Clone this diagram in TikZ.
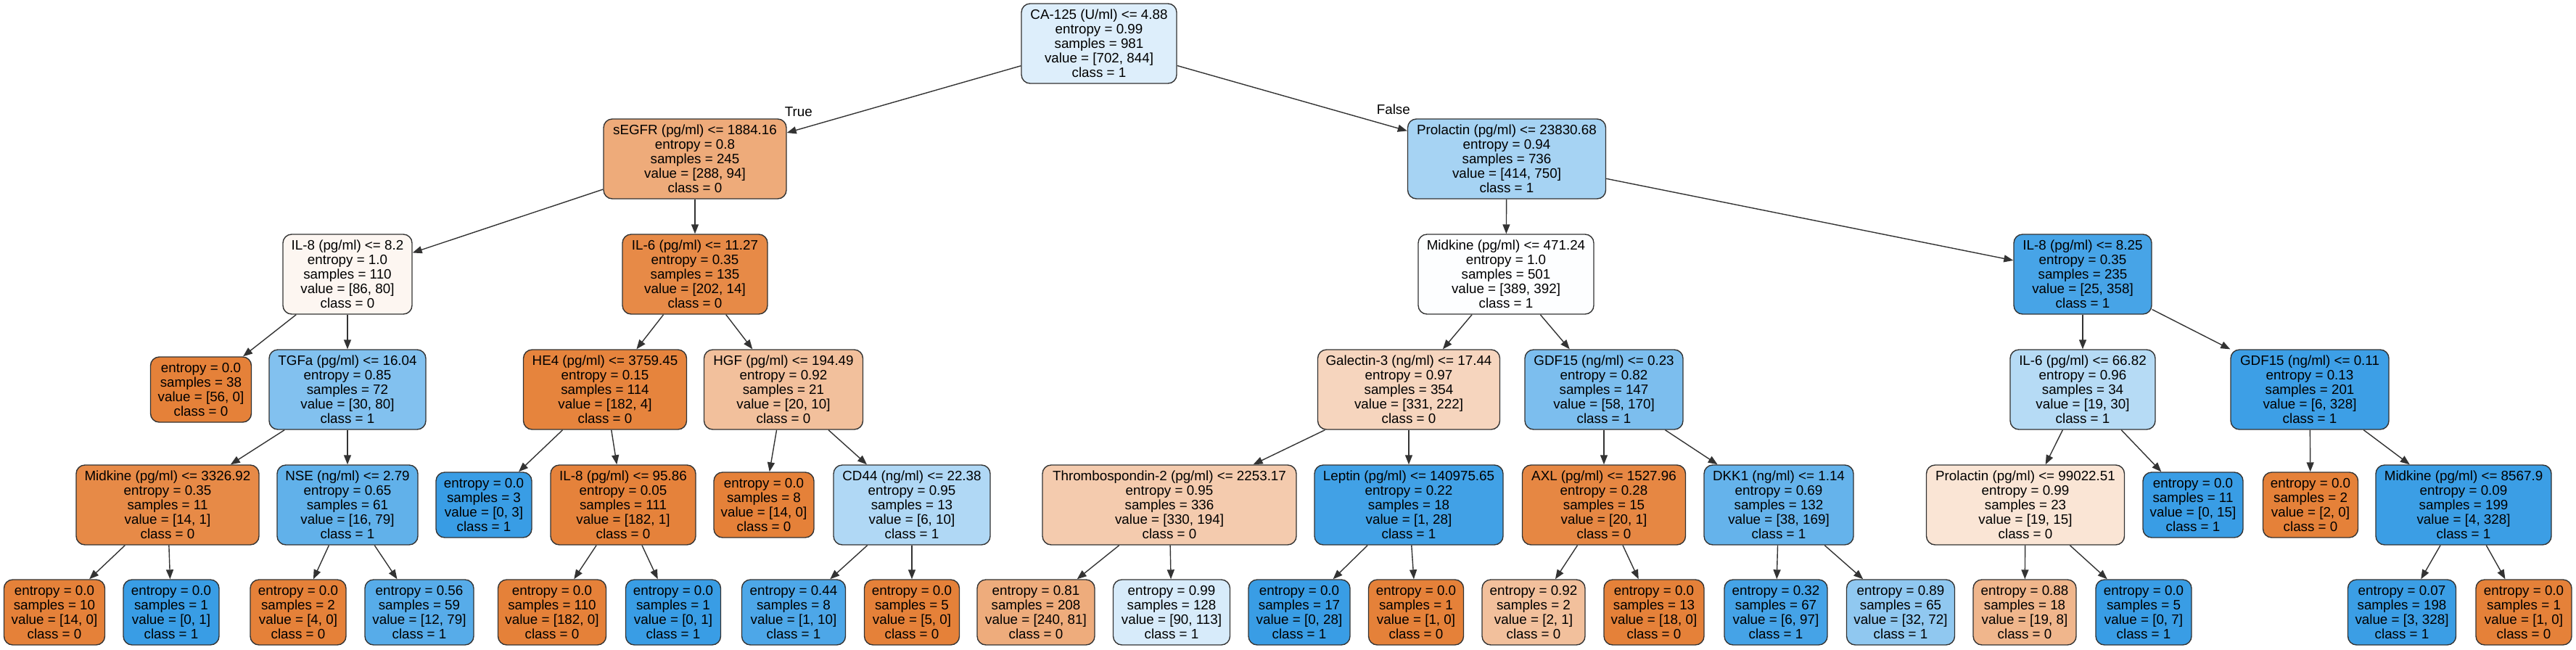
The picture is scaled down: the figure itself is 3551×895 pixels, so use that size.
\documentclass[tikz,border=0pt]{standalone}
\usepackage{fontspec}
\setmainfont{Liberation Sans}
\usepackage{tikz}
\usetikzlibrary{arrows.meta}
\definecolor{cls0}{RGB}{229,129,57}
\definecolor{cls1}{RGB}{57,157,229}

\begin{document}
\begin{tikzpicture}[x=1pt, y=-1pt, ->, >={Triangle[length=13pt,width=10pt]},
	cond/.style={draw=black!80, line width=1.4pt, rounded corners=12pt, align=center, font=\fontsize{18.8}{20}\selectfont, inner xsep=6pt, inner ysep=2pt, minimum height=110pt},
	leaf/.style={cond, minimum height=90pt},
	lbl/.style={inner sep=0pt, font=\fontsize{18.8}{20}\selectfont, text=black},
	every edge/.style={draw=black!80, line width=1.4pt}]
	\useasboundingbox (0,0) rectangle (3551,895);

	% level 0 and 1
	\node[cond, fill=cls1!17, minimum width=214pt] (CA)  at (1515,60) {CA-125 (U/ml) <= 4.88\\entropy = 0.99\\samples = 981\\value = [702, 844]\\class = 1};
	\node[cond, fill=cls0!67, minimum width=252pt] (SE)  at (958,219)  {sEGFR (pg/ml) <= 1884.16\\entropy = 0.8\\samples = 245\\value = [288, 94]\\class = 0};
	\node[cond, fill=cls1!45, minimum width=273pt] (PR)  at (2077,219) {Prolactin (pg/ml) <= 23830.68\\entropy = 0.94\\samples = 736\\value = [414, 750]\\class = 1};

	% level 2
	\node[cond, fill=cls0!7,  minimum width=178pt] (IL8a) at (479,378)  {IL-8 (pg/ml) <= 8.2\\entropy = 1.0\\samples = 110\\value = [86, 80]\\class = 0};
	\node[cond, fill=cls0!93, minimum width=200pt] (IL6a) at (958,378)  {IL-6 (pg/ml) <= 11.27\\entropy = 0.35\\samples = 135\\value = [202, 14]\\class = 0};
	\node[cond, fill=cls1!1,  minimum width=242pt] (MKa)  at (2076,378) {Midkine (pg/ml) <= 471.24\\entropy = 1.0\\samples = 501\\value = [389, 392]\\class = 1};
	\node[cond, fill=cls1!93, minimum width=190pt] (IL8b) at (2871,378) {IL-8 (pg/ml) <= 8.25\\entropy = 0.35\\samples = 235\\value = [25, 358]\\class = 1};

	% level 3
	\node[leaf, fill=cls0,    minimum width=139pt] (La)   at (277,537)  {entropy = 0.0\\samples = 38\\value = [56, 0]\\class = 0};
	\node[cond, fill=cls1!63, minimum width=216pt] (TG)   at (479,537)  {TGFa (pg/ml) <= 16.04\\entropy = 0.85\\samples = 72\\value = [30, 80]\\class = 1};
	\node[cond, fill=cls0!98, minimum width=225pt] (HE)   at (834,537)  {HE4 (pg/ml) <= 3759.45\\entropy = 0.15\\samples = 114\\value = [182, 4]\\class = 0};
	\node[cond, fill=cls0!50, minimum width=219pt] (HG)   at (1080,537) {HGF (pg/ml) <= 194.49\\entropy = 0.92\\samples = 21\\value = [20, 10]\\class = 0};
	\node[cond, fill=cls0!33, minimum width=251pt] (GA)   at (1942,537) {Galectin-3 (ng/ml) <= 17.44\\entropy = 0.97\\samples = 354\\value = [331, 222]\\class = 0};
	\node[cond, fill=cls1!66, minimum width=218pt] (GDa)  at (2211,537) {GDF15 (ng/ml) <= 0.23\\entropy = 0.82\\samples = 147\\value = [58, 170]\\class = 1};
	\node[cond, fill=cls1!37, minimum width=200pt] (IL6b) at (2871,537) {IL-6 (pg/ml) <= 66.82\\entropy = 0.96\\samples = 34\\value = [19, 30]\\class = 1};
	\node[cond, fill=cls1!98, minimum width=218pt] (GDb)  at (3184,537) {GDF15 (ng/ml) <= 0.11\\entropy = 0.13\\samples = 201\\value = [6, 328]\\class = 1};

	% level 4
	\node[cond, fill=cls0!93, minimum width=252pt] (MKb)  at (231,696)  {Midkine (pg/ml) <= 3326.92\\entropy = 0.35\\samples = 11\\value = [14, 1]\\class = 0};
	\node[cond, fill=cls1!80, minimum width=194pt] (NS)   at (479,696)  {NSE (ng/ml) <= 2.79\\entropy = 0.65\\samples = 61\\value = [16, 79]\\class = 1};
	\node[leaf, fill=cls1,    minimum width=132pt] (Lb)   at (667,696)  {entropy = 0.0\\samples = 3\\value = [0, 3]\\class = 1};
	\node[cond, fill=cls0!99, minimum width=200pt] (IL8c) at (859,696)  {IL-8 (pg/ml) <= 95.86\\entropy = 0.05\\samples = 111\\value = [182, 1]\\class = 0};
	\node[leaf, fill=cls0,    minimum width=138pt] (Lc)   at (1053,696) {entropy = 0.0\\samples = 8\\value = [14, 0]\\class = 0};
	\node[cond, fill=cls1!40, minimum width=216pt] (CD)   at (1257,696) {CD44 (ng/ml) <= 22.38\\entropy = 0.95\\samples = 13\\value = [6, 10]\\class = 1};
	\node[cond, fill=cls0!41, minimum width=350pt] (TH)   at (1612,696) {Thrombospondin-2 (pg/ml) <= 2253.17\\entropy = 0.95\\samples = 336\\value = [330, 194]\\class = 0};
	\node[cond, fill=cls1!96, minimum width=260pt] (LE)   at (1942,696) {Leptin (pg/ml) <= 140975.65\\entropy = 0.22\\samples = 18\\value = [1, 28]\\class = 1};
	\node[cond, fill=cls0!95, minimum width=225pt] (AX)   at (2211,696) {AXL (pg/ml) <= 1527.96\\entropy = 0.28\\samples = 15\\value = [20, 1]\\class = 0};
	\node[cond, fill=cls1!78, minimum width=206pt] (DK)   at (2452,696) {DKK1 (ng/ml) <= 1.14\\entropy = 0.69\\samples = 132\\value = [38, 169]\\class = 1};
	\node[cond, fill=cls0!21, minimum width=273pt] (PRb)  at (2792,696) {Prolactin (pg/ml) <= 99022.51\\entropy = 0.99\\samples = 23\\value = [19, 15]\\class = 0};
	\node[leaf, fill=cls1,    minimum width=138pt] (Ld)   at (3023,696) {entropy = 0.0\\samples = 11\\value = [0, 15]\\class = 1};
	\node[leaf, fill=cls0,    minimum width=131pt] (Le)   at (3185,696) {entropy = 0.0\\samples = 2\\value = [2, 0]\\class = 0};
	\node[cond, fill=cls1!99, minimum width=242pt] (MKc)  at (3396,696) {Midkine (pg/ml) <= 8567.9\\entropy = 0.09\\samples = 199\\value = [4, 328]\\class = 1};

	% level 5
	\node[leaf, fill=cls0,    minimum width=139pt] (L1)  at (75,844)   {entropy = 0.0\\samples = 10\\value = [14, 0]\\class = 0};
	\node[leaf, fill=cls1,    minimum width=132pt] (L2)  at (236,844)  {entropy = 0.0\\samples = 1\\value = [0, 1]\\class = 1};
	\node[leaf, fill=cls0,    minimum width=132pt] (L3)  at (411,844)  {entropy = 0.0\\samples = 2\\value = [4, 0]\\class = 0};
	\node[leaf, fill=cls1!85, minimum width=150pt] (L4)  at (578,844)  {entropy = 0.56\\samples = 59\\value = [12, 79]\\class = 1};
	\node[leaf, fill=cls0,    minimum width=149pt] (L5)  at (761,844)  {entropy = 0.0\\samples = 110\\value = [182, 0]\\class = 0};
	\node[leaf, fill=cls1,    minimum width=131pt] (L6)  at (928,844)  {entropy = 0.0\\samples = 1\\value = [0, 1]\\class = 1};
	\node[leaf, fill=cls1!90, minimum width=143pt] (L7)  at (1094,844) {entropy = 0.44\\samples = 8\\value = [1, 10]\\class = 1};
	\node[leaf, fill=cls0,    minimum width=131pt] (L8)  at (1257,844) {entropy = 0.0\\samples = 5\\value = [5, 0]\\class = 0};
	\node[leaf, fill=cls0!66, minimum width=162pt] (L9)  at (1428,844) {entropy = 0.81\\samples = 208\\value = [240, 81]\\class = 0};
	\node[leaf, fill=cls1!20, minimum width=161pt] (L10) at (1615,844) {entropy = 0.99\\samples = 128\\value = [90, 113]\\class = 1};
	\node[leaf, fill=cls1,    minimum width=140pt] (L11) at (1791,844) {entropy = 0.0\\samples = 17\\value = [0, 28]\\class = 1};
	\node[leaf, fill=cls0,    minimum width=131pt] (L12) at (1952,844) {entropy = 0.0\\samples = 1\\value = [1, 0]\\class = 0};
	\node[leaf, fill=cls0!50, minimum width=142pt] (L13) at (2114,844) {entropy = 0.92\\samples = 2\\value = [2, 1]\\class = 0};
	\node[leaf, fill=cls0,    minimum width=138pt] (L14) at (2280,844) {entropy = 0.0\\samples = 13\\value = [18, 0]\\class = 0};
	\node[leaf, fill=cls1!94, minimum width=142pt] (L15) at (2448,844) {entropy = 0.32\\samples = 67\\value = [6, 97]\\class = 1};
	\node[leaf, fill=cls1!56, minimum width=149pt] (L16) at (2620,844) {entropy = 0.89\\samples = 65\\value = [32, 72]\\class = 1};
	\node[leaf, fill=cls0!58, minimum width=142pt] (L17) at (2791,844) {entropy = 0.88\\samples = 18\\value = [19, 8]\\class = 0};
	\node[leaf, fill=cls1,    minimum width=132pt] (L18) at (2955,844) {entropy = 0.0\\samples = 5\\value = [0, 7]\\class = 1};
	\node[leaf, fill=cls1!99, minimum width=149pt] (L19) at (3311,844) {entropy = 0.07\\samples = 198\\value = [3, 328]\\class = 1};
	\node[leaf, fill=cls0,    minimum width=132pt] (L20) at (3479,844) {entropy = 0.0\\samples = 1\\value = [1, 0]\\class = 0};

	\path	(CA)   edge node[lbl, pos=0.95, above=17pt] {True}  (SE)
			(CA)   edge node[lbl, pos=0.94, above=17pt] {False} (PR)
			(SE)   edge (IL8a)  (SE)   edge (IL6a)
			(PR)   edge (MKa)   (PR)   edge (IL8b)
			(IL8a) edge (La)    (IL8a) edge (TG)
			(IL6a) edge (HE)    (IL6a) edge (HG)
			(MKa)  edge (GA)    (MKa)  edge (GDa)
			(IL8b) edge (IL6b)  (IL8b) edge (GDb)
			(TG)   edge (MKb)   (TG)   edge (NS)
			(HE)   edge (Lb)    (HE)   edge (IL8c)
			(HG)   edge (Lc)    (HG)   edge (CD)
			(GA)   edge (TH)    (GA)   edge (LE)
			(GDa)  edge (AX)    (GDa)  edge (DK)
			(IL6b) edge (PRb)   (IL6b) edge (Ld)
			(GDb)  edge (Le)    (GDb)  edge (MKc)
			(MKb)  edge (L1)    (MKb)  edge (L2)
			(NS)   edge (L3)    (NS)   edge (L4)
			(IL8c) edge (L5)    (IL8c) edge (L6)
			(CD)   edge (L7)    (CD)   edge (L8)
			(TH)   edge (L9)    (TH)   edge (L10)
			(LE)   edge (L11)   (LE)   edge (L12)
			(AX)   edge (L13)   (AX)   edge (L14)
			(DK)   edge (L15)   (DK)   edge (L16)
			(PRb)  edge (L17)   (PRb)  edge (L18)
			(MKc)  edge (L19)   (MKc)  edge (L20);

\end{tikzpicture}
\end{document}
